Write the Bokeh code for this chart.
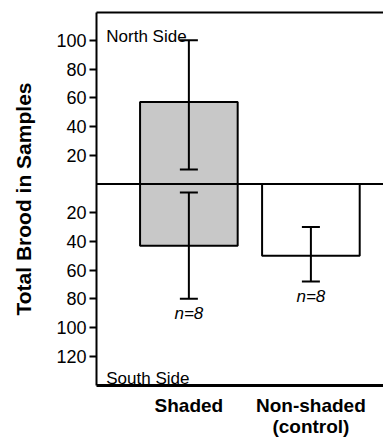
from bokeh.plotting import figure
from bokeh.models import (LinearAxis, FixedTicker, CustomJSTickFormatter, Range1d,
                          Span, Whisker, TeeHead, ColumnDataSource, Label)
from bokeh.core.properties import value
from bokeh.embed import file_html
from bokeh.resources import INLINE

# ---- data ----
groups = ["Shaded", "Non-shaded\n(control)"]
group_x = [1, 2]
north_mean = [57, 0]          # total brood, north side
south_mean = [43, 50]         # total brood, south side (plotted downward)
fill_colors = ["#c8c8c8", "#ffffff"]
north_err_x = [1]
north_err_low = [10]
north_err_high = [100]
south_err_low = [6, 30]
south_err_high = [80, 68]
n_labels = ["n=8", "n=8"]
y_ticks = [100, 80, 60, 40, 20, -20, -40, -60, -80, -100, -120]

FONT = "Liberation Sans"

x0, x1 = 0.243, 2.595
y0, y1 = -140.4, 119.4

p = figure(width=383, height=439, output_backend="svg", toolbar_location=None,
           x_axis_type=None, y_axis_type=None,
           x_range=Range1d(x0, x1), y_range=Range1d(y0, y1),
           min_border_left=96, min_border_right=0, min_border_top=12,
           min_border_bottom=52, outline_line_color=None,
           background_fill_color="white", border_fill_color="white")

# left axis
yaxis = LinearAxis(ticker=FixedTicker(ticks=y_ticks),
                   formatter=CustomJSTickFormatter(code="return String(Math.abs(tick));"),
                   axis_label="Total Brood in Samples",
                   axis_label_text_font=FONT, axis_label_text_font_style="bold",
                   axis_label_text_font_size="21px", axis_label_standoff=18,
                   axis_label_text_color="black",
                   major_label_text_font=FONT, major_label_text_font_size="18px",
                   major_label_text_color="black", major_label_standoff=3,
                   major_tick_out=7, major_tick_in=0, major_tick_line_width=2,
                   minor_tick_line_color=None, axis_line_width=2)
p.add_layout(yaxis, "left")

# bottom axis with category names
xaxis = LinearAxis(ticker=FixedTicker(ticks=group_x),
                   major_label_overrides={gx: g for gx, g in zip(group_x, groups)},
                   major_label_text_font=FONT, major_label_text_font_style="bold",
                   major_label_text_font_size="19px", major_label_text_color="black",
                   major_label_text_line_height=1.0,
                   major_label_standoff=9, major_tick_out=0, major_tick_in=0,
                   major_tick_line_color=None, minor_tick_line_color=None,
                   axis_line_width=3)
p.add_layout(xaxis, "below")

# top frame line
topaxis = LinearAxis(ticker=FixedTicker(ticks=[]), major_label_text_font_size="0px",
                     major_label_standoff=0, major_tick_out=0, major_tick_in=0,
                     major_tick_line_color=None, minor_tick_line_color=None,
                     axis_line_width=2)
p.add_layout(topaxis, "above")

# bars
src = ColumnDataSource(dict(x=group_x, north=north_mean,
                            south=[-v for v in south_mean], color=fill_colors))
p.vbar(x="x", width=0.8, bottom=0, top="north", source=src, fill_color="color",
       line_color="black", line_width=2)
p.vbar(x="x", width=0.8, top=0, bottom="south", source=src, fill_color="color",
       line_color="black", line_width=2)

# zero line
p.add_layout(Span(location=0, dimension="width", line_color="black", line_width=2))

# error bars
nsrc = ColumnDataSource(dict(x=north_err_x, lower=north_err_low, upper=north_err_high))
ssrc = ColumnDataSource(dict(x=group_x, lower=[-v for v in south_err_low],
                             upper=[-v for v in south_err_high]))
for s in (nsrc, ssrc):
    p.add_layout(Whisker(source=s, base="x", lower="lower", upper="upper",
                         dimension="height", line_color="black", line_width=2,
                         level="annotation",
                         upper_head=TeeHead(size=18, line_width=2, line_color="black"),
                         lower_head=TeeHead(size=18, line_width=2, line_color="black")))

# n labels
tsrc = ColumnDataSource(dict(x=group_x, y=[-(v + 10.5) for v in south_err_high], t=n_labels))
p.text(x="x", y="y", text="t", source=tsrc, text_font=value(FONT),
       text_font_style="italic", text_font_size="17px", text_align="center",
       text_baseline="alphabetic", text_color="black")

# side labels
p.add_layout(Label(x=x0 + 0.08, y=y1 - 16.4, text="North Side", text_font=FONT,
                   text_font_size="17px", text_baseline="alphabetic", text_color="black"))
p.add_layout(Label(x=x0 + 0.08, y=y0 + 4.6, text="South Side", text_font=FONT,
                   text_font_size="17px", text_baseline="alphabetic", text_color="black"))

open("out.html", "w").write(file_html(p, INLINE))
